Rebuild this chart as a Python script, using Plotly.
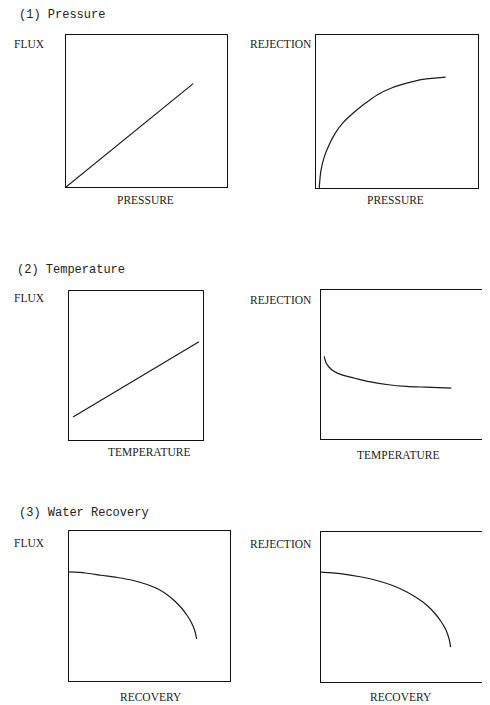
import plotly.graph_objects as go

# page is 490x705 but the browser adds an 8px body margin
OFF = 8
W, H = 490 - OFF, 705 - OFF

# ---- data (relative units 0-100) ----
p_flux_x = [0, 79]
p_flux_y = [0, 68]

p_rej_x = [2, 3, 5, 8, 12, 17, 23, 30, 38, 47, 56, 66, 80]
p_rej_y = [0, 11, 20, 28, 36, 43, 49, 55, 61, 65.5, 68.5, 71, 72.5]

t_flux_x = [3, 97]
t_flux_y = [15.5, 66]

t_rej_x = [2, 3, 4.8, 8, 13, 21, 30, 42, 53, 65, 81]
t_rej_y = [55.4, 51.5, 48.5, 45.5, 43, 40.8, 38.5, 36.4, 35.3, 34.8, 34.2]

r_flux_x = [0, 10, 20, 30, 40, 48, 55, 61, 66, 70, 73.5, 76, 78, 79.3]
r_flux_y = [72.7, 72, 70.5, 69, 67, 64.5, 61.5, 57.5, 53, 48.5, 43.5, 39, 34, 28]

r_rej_x = [0, 12, 25, 35, 45, 53, 60, 65.5, 70.5, 74, 77, 79, 80]
r_rej_y = [73.3, 72.3, 70, 67.5, 64, 60, 55.5, 51, 45.5, 40.5, 35, 29, 23.3]

titles = ["(1) Pressure", "(2) Temperature", "(3) Water Recovery"]
y_labels = ["FLUX", "REJECTION", "FLUX", "REJECTION", "FLUX", "REJECTION"]
x_labels = ["PRESSURE", "PRESSURE", "TEMPERATURE", "TEMPERATURE", "RECOVERY", "RECOVERY"]

series = [
    (p_flux_x, p_flux_y), (p_rej_x, p_rej_y),
    (t_flux_x, t_flux_y), (t_rej_x, t_rej_y),
    (r_flux_x, r_flux_y), (r_rej_x, r_rej_y),
]

# panel boxes in page pixels: (left, top, right, bottom)
boxes = [
    (66, 35, 227, 187), (316, 35, 478, 188),
    (69, 291, 203, 440), (321, 290, 482, 439),
    (69, 531, 230, 681), (321, 532, 483, 682),
]

def px_x(v):
    return (v - OFF) / W

def px_y(v):
    return 1 - (v - OFF) / H

fig = go.Figure()
layout = dict(
    width=W, height=H,
    margin=dict(l=0, r=0, t=0, b=0),
    paper_bgcolor="white", plot_bgcolor="white",
    showlegend=False,
)

for i, ((xs, ys), (l, t, r, b)) in enumerate(zip(series, boxes)):
    n = "" if i == 0 else str(i + 1)
    fig.add_trace(go.Scatter(
        x=xs, y=ys, mode="lines",
        line=dict(color="#1a1a1a", width=1.2, shape="spline", smoothing=0.8),
        xaxis="x" + n, yaxis="y" + n, hoverinfo="skip", cliponaxis=False,
    ))
    ax = dict(range=[0, 100], showline=True, mirror=True, linecolor="#111",
              linewidth=1.4, showgrid=False, zeroline=False, showticklabels=False,
              ticks="", fixedrange=True)
    layout["xaxis" + n] = dict(ax, domain=[px_x(l), px_x(r)], anchor="y" + n)
    layout["yaxis" + n] = dict(ax, domain=[px_y(b), px_y(t)], anchor="x" + n)

fig.update_layout(**layout)

serif = "Liberation Serif"
mono = "Liberation Mono"
col = "#222"

title_pos = [(17, 15), (15, 270), (17, 513)]
for txt, (x, y) in zip(titles, title_pos):
    fig.add_annotation(text=txt, x=px_x(x), y=px_y(y), xref="paper", yref="paper",
                       xanchor="left", yanchor="middle", showarrow=False,
                       font=dict(family=mono, size=12, color=col))

ylab_pos = [(12, 44), (248, 44), (12, 298), (248, 300), (12, 543), (248, 544)]
for txt, (x, y) in zip(y_labels, ylab_pos):
    fig.add_annotation(text=txt, x=px_x(x), y=px_y(y), xref="paper", yref="paper",
                       xanchor="left", yanchor="middle", showarrow=False,
                       font=dict(family=serif, size=11.5, color=col))

xlab_pos = [(145, 200), (395, 200), (149, 452), (398, 455), (151, 697), (401, 697)]
for txt, (x, y) in zip(x_labels, xlab_pos):
    fig.add_annotation(text=txt, x=px_x(x), y=px_y(y), xref="paper", yref="paper",
                       xanchor="center", yanchor="middle", showarrow=False,
                       font=dict(family=serif, size=11.5, color=col))

fig.write_html("out.html")
